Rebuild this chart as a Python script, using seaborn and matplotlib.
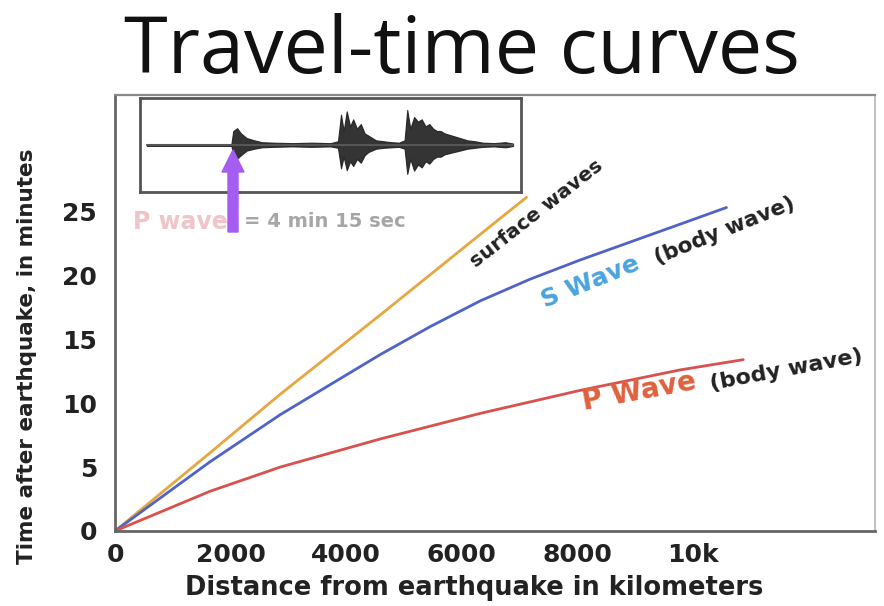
import matplotlib
matplotlib.use("Agg")
import matplotlib.pyplot as plt
import matplotlib.patches as mpatches
from matplotlib.transforms import IdentityTransform
from matplotlib.ticker import FixedLocator
import seaborn as sns

# ---------------- data ----------------
surface_x = [0, 1640, 2860, 4590, 6320, 7120]
surface_y = [0, 6.1, 10.7, 16.9, 23.2, 26.1]

s_x = [0, 1640, 2860, 4590, 5460, 6320, 7185, 8050, 9780, 10580]
s_y = [0, 5.4, 9.1, 13.8, 16.0, 18.0, 19.7, 21.2, 24.0, 25.3]

p_x = [0, 1640, 2860, 4590, 6320, 8050, 9780, 10870]
p_y = [0, 3.1, 5.0, 7.2, 9.2, 11.0, 12.6, 13.4]

x_ticks = [0, 2000, 4000, 6000, 8000, 10000]
x_tick_labels = ["0", "2000", "4000", "6000", "8000", "10k"]
y_ticks = [0, 5, 10, 15, 20, 25]
y_tick_labels = ["0", "5", "10", "15", "20", "25"]

# seismogram envelope in the inset (arbitrary time units 0-100, amplitude -1..1)
seis_t = [1.8, 24.0, 24.5, 25.5, 26.5, 28, 30, 32, 35, 40, 45, 50, 52, 52.8, 53.5,
          54.3, 55.2, 56, 57, 58, 59, 60, 62, 64, 66, 68, 69.5, 70.2, 71, 72, 73,
          74, 75, 76, 77, 78, 79, 80, 82, 84, 86, 88, 90, 93, 96, 98]
seis_up = [0.02, 0.02, 0.30, 0.36, 0.25, 0.15, 0.10, 0.06, 0.05, 0.04, 0.05, 0.04,
           0.08, 0.65, 0.30, 0.72, 0.40, 0.55, 0.35, 0.45, 0.25, 0.20, 0.10, 0.08,
           0.06, 0.05, 0.10, 0.75, 0.35, 0.60, 0.50, 0.55, 0.40, 0.45, 0.35, 0.30,
           0.30, 0.25, 0.20, 0.15, 0.10, 0.08, 0.05, 0.04, 0.06, 0.03]
seis_lo = [-0.02, -0.02, -0.20, -0.29, -0.22, -0.12, -0.08, -0.05, -0.04, -0.03,
           -0.04, -0.03, -0.06, -0.50, -0.25, -0.54, -0.35, -0.45, -0.30, -0.38,
           -0.22, -0.15, -0.08, -0.06, -0.05, -0.04, -0.08, -0.62, -0.30, -0.55,
           -0.42, -0.48, -0.35, -0.40, -0.30, -0.25, -0.25, -0.20, -0.16, -0.12,
           -0.08, -0.06, -0.04, -0.03, -0.05, -0.02]

# ---------------- figure ----------------
sns.set_theme(style="white")
plt.rcParams["font.family"] = ["DejaVu Sans"]

W, H = 884, 606
fig = plt.figure(figsize=(W / 100, H / 100), dpi=100)
fig.patch.set_facecolor("white")

ax = fig.add_axes([115 / W, 1 - 531 / H, (875 - 115) / W, (531 - 95) / H])
ax.set_xlim(0, 13150)
ax.set_ylim(0, 34.1)

c_surf = "#e6a640"
c_s = "#4f63c8"
c_p = "#d9504c"

for xs, ys, c in [(surface_x, surface_y, c_surf), (s_x, s_y, c_s), (p_x, p_y, c_p)]:
    sns.lineplot(x=xs, y=ys, color=c, linewidth=2.0, ax=ax, sort=False,
                 solid_joinstyle="round", solid_capstyle="round")

# spines
for side in ["left", "bottom"]:
    ax.spines[side].set_color("#666666")
    ax.spines[side].set_linewidth(2.0)
ax.spines["top"].set_color("#8a8a8a")
ax.spines["top"].set_linewidth(1.6)
ax.spines["right"].set_color("#c0c0c0")
ax.spines["right"].set_linewidth(1.4)

# ticks
ax.set_xticks(x_ticks)
ax.set_xticklabels(x_tick_labels)
ax.set_yticks(y_ticks)
ax.set_yticklabels(y_tick_labels)
ax.xaxis.set_minor_locator(FixedLocator([v for v in range(500, 10001, 500) if v % 2000]))
ax.yaxis.set_minor_locator(FixedLocator([v for v in range(1, 26) if v % 5]))
ax.tick_params(axis="x", which="major", direction="in", length=12, width=2,
               color="#777777", pad=9, labelsize=18, labelcolor="#222222")
ax.tick_params(axis="x", which="minor", direction="in", length=6, width=2,
               color="#777777")
ax.tick_params(axis="y", which="major", direction="in", length=24, width=2,
               color="#666666", pad=13, labelsize=18, labelcolor="#222222")
ax.tick_params(axis="y", which="minor", direction="in", length=7, width=1.5,
               color="#888888")
ax.tick_params(top=False, right=False, which="both")
for lab in ax.get_xticklabels() + ax.get_yticklabels():
    lab.set_fontweight("bold")

ax.set_xlabel("Distance from earthquake in kilometers", fontsize=18.5,
              fontweight="bold", color="#222222")
ax.set_ylabel("Time after earthquake, in minutes", fontsize=15.5,
              fontweight="bold", color="#222222")
ax.xaxis.set_label_coords(0.473, -0.102)
ax.yaxis.set_label_coords(-0.103, 0.40)

# curve labels
ax.text(7295, 24.8, "surface waves", rotation=38, ha="center", va="center",
        rotation_mode="anchor", fontsize=14.5, fontweight="bold", color="#222222")
ax.text(8230, 19.5, "S Wave", rotation=22, ha="center", va="center",
        rotation_mode="anchor", fontsize=18, fontweight="bold", color="#4aa3df")
ax.text(10550, 23.5, "(body wave)", rotation=22, ha="center", va="center",
        rotation_mode="anchor", fontsize=15.5, fontweight="bold", color="#222222")
ax.text(9066, 10.9, "P Wave", rotation=10.5, ha="center", va="center",
        rotation_mode="anchor", fontsize=20, fontweight="bold", color="#e0603f")
ax.text(11621, 12.6, "(body wave)", rotation=10.5, ha="center", va="center",
        rotation_mode="anchor", fontsize=16, fontweight="bold", color="#222222")

# "P wave = 4 min 15 sec"
ax.text(311, 24.2, "P wave", ha="left", va="center", fontsize=17, fontweight="bold",
        color="#f0c4c8")
ax.text(2230, 24.2, "= 4 min 15 sec", ha="left", va="center", fontsize=14,
        fontweight="bold", color="#a6a6a6")

# ---------------- seismogram inset ----------------
iax = fig.add_axes([140 / W, 1 - 191.7 / H, 380.7 / W, 93.4 / H])
iax.set_xlim(0, 100)
iax.set_ylim(-1, 1)
iax.plot([seis_t[0], seis_t[-1]], [0, 0], color="#555555", lw=1.5)
iax.fill_between(seis_t, seis_lo, seis_up, color="#1e1e1e", alpha=0.9, lw=0.8)
iax.set_xticks([])
iax.set_yticks([])
for sp in iax.spines.values():
    sp.set_color("#555555")
    sp.set_linewidth(2.0)
iax.set_facecolor("white")

# purple arrow (figure pixels)
arrow = mpatches.FancyArrow(233, H - 232, 0, 82, width=10, head_width=22,
                            head_length=22, length_includes_head=True,
                            color="#a55cf0", transform=IdentityTransform(),
                            zorder=20)
fig.add_artist(arrow)

# title
fig.text(462 / W, 1 - 73 / H, "Travel-time curves", ha="center", va="baseline",
         fontsize=57, family=["Open Sans", "DejaVu Sans"], color="#111111")

fig.savefig("out.png", dpi=100)
